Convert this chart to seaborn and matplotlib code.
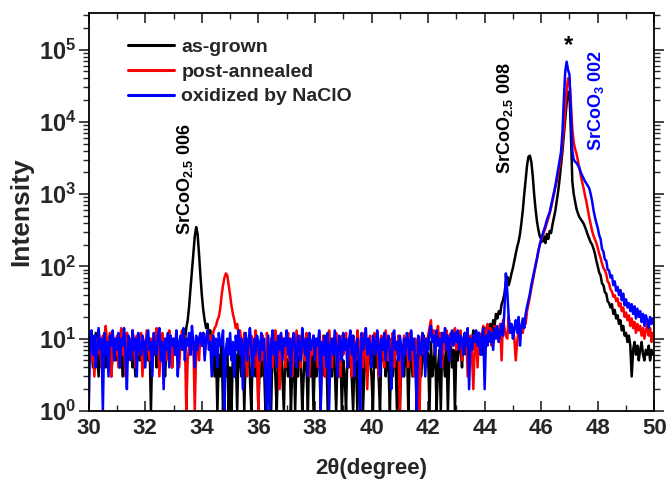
import numpy as np
import pandas as pd
import matplotlib
matplotlib.use("Agg")
import matplotlib.pyplot as plt
import matplotlib.ticker as mticker
import seaborn as sns

# 2-theta scan: 30 to 50 degree, 0.05 degree step
two_theta_start = 30.0
two_theta_step = 0.05

# Counts per step, one row per degree (30.00 ... 30.95, 31.00 ... , 50.00)
as_grown = [
    8, 5, 10, 4, 7, 12, 6, 3, 9, 7, 5, 11, 4, 8, 6, 10, 3, 7, 9, 5,
    6, 11, 4, 8, 3, 9, 7, 12, 5, 6, 10, 4, 7, 3, 9, 8, 5, 11, 6, 4,
    9, 7, 5, 10, 1, 8, 6, 12, 4, 7, 9, 5, 11, 6, 3, 8, 10, 5, 7, 4,
    9, 6, 11, 5, 8, 7, 10, 12, 9, 14, 18, 28, 50, 85, 150, 260, 350, 280, 150, 75,
    40, 25, 18, 14, 16, 11, 13, 5, 8, 3, 7, 1, 6, 3, 9, 1, 5, 3, 8, 1,
    4, 1, 7, 3, 6, 1, 9, 5, 3, 8, 1, 6, 4, 10, 3, 1, 7, 5, 3, 8,
    1, 6, 3, 9, 4, 1, 7, 3, 5, 1, 8, 6, 3, 1, 7, 4, 9, 3, 1, 6,
    5, 3, 8, 1, 4, 7, 1, 6, 3, 9, 5, 1, 3, 7, 4, 1, 8, 3, 6, 1,
    7, 3, 5, 9, 1, 6, 4, 3, 8, 1, 5, 7, 3, 10, 4, 1, 6, 3, 8, 1,
    5, 3, 1, 7, 4, 9, 3, 1, 6, 5, 1, 8, 3, 6, 1, 4, 7, 3, 9, 5,
    3, 1, 8, 4, 6, 3, 1, 7, 5, 9, 3, 6, 4, 1, 8, 3, 7, 5, 1, 6,
    1, 4, 8, 3, 6, 10, 1, 5, 7, 3, 9, 4, 6, 1, 8, 3, 5, 11, 4, 7,
    6, 1, 9, 3, 5, 8, 1, 4, 7, 1, 10, 5, 3, 8, 1, 6, 9, 4, 7, 1,
    8, 5, 11, 7, 4, 9, 12, 6, 8, 10, 5, 9, 13, 7, 10, 8, 12, 9, 6, 11,
    10, 14, 9, 12, 16, 11, 18, 15, 22, 19, 24, 22, 30, 34, 42, 60, 72, 55, 65, 80,
    95, 120, 150, 185, 220, 280, 400, 600, 1000, 1600, 2500, 3300, 3400, 2800, 1800, 1000, 620, 420, 320, 260,
    240, 220, 260, 210, 280, 240, 310, 290, 380, 470, 590, 800, 1100, 1600, 2500, 3900, 6500, 11000, 18000, 26000,
    24000, 7000, 1500, 1000, 780, 620, 540, 480, 450, 420, 390, 350, 310, 270, 240, 215, 200, 175, 150, 120,
    100, 82, 75, 58, 55, 44, 42, 33, 31, 27, 30, 22, 25, 19, 21, 16, 18, 13, 15, 11,
    12, 9, 11, 8, 3, 7, 9, 6, 8, 5, 7, 9, 6, 5, 7, 6, 8, 5, 7, 6,
    6,
]

post_annealed = [
    7, 12, 5, 9, 3, 10, 6, 13, 8, 4, 11, 7, 15, 9, 5, 12, 3, 8, 10, 6,
    11, 4, 9, 14, 6, 8, 3, 12, 7, 10, 5, 13, 9, 4, 11, 6, 8, 12, 3, 9,
    6, 13, 8, 5, 10, 4, 11, 7, 14, 9, 3, 8, 12, 6, 10, 5, 9, 13, 7, 4,
    10, 6, 12, 8, 4, 9, 13, 7, 11, 1, 5, 8, 6, 10, 9, 1, 7, 9, 5, 11,
    8, 12, 6, 10, 13, 9, 11, 7, 12, 14, 15, 18, 20, 26, 40, 55, 70, 80, 75, 55,
    40, 28, 22, 18, 14, 16, 11, 13, 9, 5, 12, 7, 3, 10, 6, 11, 8, 4, 13, 7,
    1, 9, 5, 11, 7, 3, 12, 8, 6, 10, 4, 9, 13, 5, 8, 2, 11, 7, 10, 4,
    8, 12, 5, 10, 3, 9, 7, 13, 6, 11, 4, 8, 10, 5, 12, 7, 3, 9, 6, 11,
    7, 10, 4, 12, 8, 5, 11, 3, 9, 6, 13, 8, 4, 10, 7, 12, 5, 9, 3, 11,
    6, 9, 12, 4, 10, 7, 3, 11, 8, 5, 13, 9, 6, 10, 4, 12, 7, 2, 9, 11,
    5, 8, 12, 6, 10, 3, 9, 11, 7, 4, 13, 8, 5, 10, 7, 12, 4, 9, 6, 11,
    1, 8, 5, 11, 7, 10, 4, 12, 9, 6, 3, 10, 8, 5, 1, 9, 12, 6, 10, 7,
    11, 14, 18, 9, 13, 6, 10, 15, 8, 12, 4, 11, 7, 13, 9, 5, 12, 8, 10, 14,
    7, 11, 9, 13, 5, 10, 8, 12, 3, 9, 11, 6, 2, 8, 10, 4, 12, 9, 11, 15,
    9, 13, 16, 10, 14, 8, 12, 15, 11, 13, 9, 16, 5, 18, 14, 11, 10, 20, 12, 15,
    14, 10, 5, 9, 13, 11, 15, 12, 18, 16, 24, 30, 38, 50, 62, 80, 100, 125, 160, 200,
    230, 260, 300, 340, 400, 460, 540, 650, 800, 1000, 1250, 1500, 1900, 2500, 3400, 5000, 8000, 15000, 28000, 40000,
    36000, 18000, 8000, 5200, 4200, 3600, 2900, 2300, 1800, 1450, 1200, 950, 780, 600, 470, 380, 310, 265, 235, 210,
    180, 150, 130, 110, 95, 88, 78, 62, 58, 48, 45, 38, 40, 33, 36, 28, 31, 24, 27, 20,
    23, 18, 21, 15, 19, 14, 17, 12, 16, 13, 15, 11, 14, 10, 13, 16, 11, 14, 9, 12,
    10,
]

oxidized = [
    1, 9, 13, 6, 11, 4, 8, 14, 7, 10, 1, 12, 6, 9, 3, 11, 8, 13, 5, 10,
    7, 12, 4, 10, 8, 14, 6, 2, 11, 9, 5, 13, 7, 10, 3, 12, 8, 6, 11, 9,
    4, 10, 13, 7, 9, 3, 12, 8, 6, 11, 14, 5, 9, 2, 10, 7, 12, 4, 11, 8,
    10, 6, 13, 3, 9, 11, 7, 14, 5, 10, 8, 12, 6, 15, 9, 4, 11, 7, 10, 12,
    8, 12, 5, 10, 13, 7, 9, 3, 11, 6, 10, 4, 12, 8, 9, 13, 1, 7, 10, 6,
    12, 5, 9, 3, 11, 7, 13, 6, 10, 2, 8, 12, 5, 9, 14, 7, 3, 10, 6, 11,
    9, 5, 12, 7, 10, 3, 1, 11, 1, 8, 13, 6, 9, 4, 11, 7, 12, 5, 10, 8,
    13, 6, 10, 3, 9, 12, 7, 4, 11, 8, 5, 14, 9, 6, 10, 3, 12, 7, 9, 11,
    5, 10, 8, 13, 1, 9, 6, 11, 4, 12, 1, 8, 10, 6, 13, 7, 3, 11, 9, 5,
    12, 7, 10, 4, 9, 13, 6, 11, 3, 8, 10, 5, 1, 12, 7, 9, 14, 6, 10, 8,
    4, 11, 9, 6, 13, 8, 3, 10, 7, 12, 5, 9, 11, 6, 2, 10, 13, 7, 9, 5,
    11, 8, 3, 10, 6, 12, 9, 5, 13, 7, 10, 4, 1, 11, 8, 6, 12, 9, 3, 10,
    7, 12, 15, 9, 11, 6, 13, 8, 10, 4, 12, 9, 14, 7, 11, 5, 10, 13, 8, 12,
    9, 13, 7, 11, 10, 6, 12, 8, 14, 2, 10, 7, 11, 9, 13, 8, 12, 6, 10, 14,
    2, 11, 8, 13, 9, 12, 7, 14, 10, 15, 9, 12, 16, 11, 25, 80, 45, 20, 12, 16,
    10, 14, 18, 12, 20, 8, 15, 19, 14, 22, 28, 34, 42, 55, 68, 85, 105, 130, 165, 200,
    240, 280, 320, 370, 440, 500, 560, 700, 850, 1050, 1300, 1700, 2200, 2900, 3800, 7000, 20000, 50000, 68000, 52000,
    45000, 14000, 4000, 3000, 2800, 2700, 2500, 2300, 2000, 1800, 1650, 1500, 1400, 1300, 1200, 1000, 800, 600, 480, 400,
    340, 270, 240, 175, 160, 125, 120, 90, 88, 70, 75, 55, 62, 46, 52, 40, 47, 34, 42, 29,
    35, 27, 31, 24, 30, 22, 28, 19, 26, 20, 24, 17, 22, 15, 21, 18, 14, 20, 16, 19,
    15,
]

series_names = ["as-grown", "post-annealed", "oxidized by NaClO"]
series_colors = ["#000000", "#ff0000", "#0000ff"]

frames = []
for name, counts in zip(series_names, [as_grown, post_annealed, oxidized]):
    counts = np.asarray(counts, dtype=float)
    frames.append(pd.DataFrame({
        "two_theta": two_theta_start + two_theta_step * np.arange(len(counts)),
        "intensity": counts,
        "sample": name,
    }))
df = pd.concat(frames, ignore_index=True)

sns.set_style("ticks")
plt.rcParams["font.family"] = ["Liberation Sans", "DejaVu Sans"]
plt.rcParams["font.weight"] = "bold"
plt.rcParams["mathtext.fontset"] = "custom"
plt.rcParams["mathtext.rm"] = "Liberation Sans:bold"
plt.rcParams["mathtext.bf"] = "Liberation Sans:bold"
plt.rcParams["mathtext.it"] = "Liberation Sans:bold:italic"
plt.rcParams["mathtext.sf"] = "Liberation Sans:bold"

fig = plt.figure(figsize=(6.67, 4.84), dpi=100)
ax = fig.add_axes([0.133, 0.151, 0.848, 0.822])

sns.lineplot(data=df, x="two_theta", y="intensity", hue="sample",
             hue_order=series_names, palette=series_colors,
             estimator=None, linewidth=1.8, ax=ax, legend=True)

ax.set_yscale("log")
ax.set_xlim(30, 50)
ax.set_ylim(1, 3.2e5)

ax.xaxis.set_major_locator(mticker.MultipleLocator(2))
ax.xaxis.set_minor_locator(mticker.MultipleLocator(1))
ax.yaxis.set_major_locator(mticker.LogLocator(base=10, numticks=10))
ax.yaxis.set_minor_locator(mticker.LogLocator(base=10, subs=np.arange(2, 10), numticks=20))
ax.yaxis.set_minor_formatter(mticker.NullFormatter())
ax.yaxis.set_major_formatter(mticker.FuncFormatter(
    lambda v, pos: r"$\mathbf{10^{%d}}$" % int(round(np.log10(v)))))

for side in ["left", "right", "top", "bottom"]:
    ax.spines[side].set_linewidth(1.3)
    ax.spines[side].set_color("black")

ax.tick_params(axis="x", which="major", direction="in", length=7, width=1.2,
               labelsize=16, pad=5, top=True)
ax.tick_params(axis="x", which="minor", direction="in", length=4, width=1.0, top=True)
ax.tick_params(axis="y", which="major", direction="out", length=7, width=1.2,
               labelsize=17, pad=2, right=True)
ax.tick_params(axis="y", which="minor", direction="out", length=4, width=1.0, right=True)
for lbl in ax.get_xticklabels():
    lbl.set_fontweight("bold")

ax.set_xlabel("2θ(degree)", fontsize=16, fontweight="bold", labelpad=14)
ax.set_ylabel("Intensity", fontsize=19, fontweight="bold", labelpad=4)

handles, labels = ax.get_legend_handles_labels()
ax.legend(handles, labels, loc="upper left", bbox_to_anchor=(0.069, 0.937),
          frameon=False, handlelength=2.4, handletextpad=0.36,
          labelspacing=0.37, borderpad=0.0, borderaxespad=0.0,
          prop={"weight": "bold", "size": 14})
for line in ax.get_legend().get_lines():
    line.set_linewidth(2.2)

# Reflection labels
ax.text(33.39, 275, r"SrCoO$_{2.5}$ 006", rotation=90, ha="center", va="bottom",
        fontsize=13, fontweight="bold", color="black")
ax.text(44.72, 1900, r"SrCoO$_{2.5}$ 008", rotation=90, ha="center", va="bottom",
        fontsize=13, fontweight="bold", color="black")
ax.text(46.96, 1.15e5, "*", ha="center", va="center",
        fontsize=17, fontweight="bold", color="black")
ax.text(47.95, 4000, r"SrCoO$_{3}$ 002", rotation=90, ha="center", va="bottom",
        fontsize=13, fontweight="bold", color="#0000ff")

fig.savefig("out.png", dpi=100)
